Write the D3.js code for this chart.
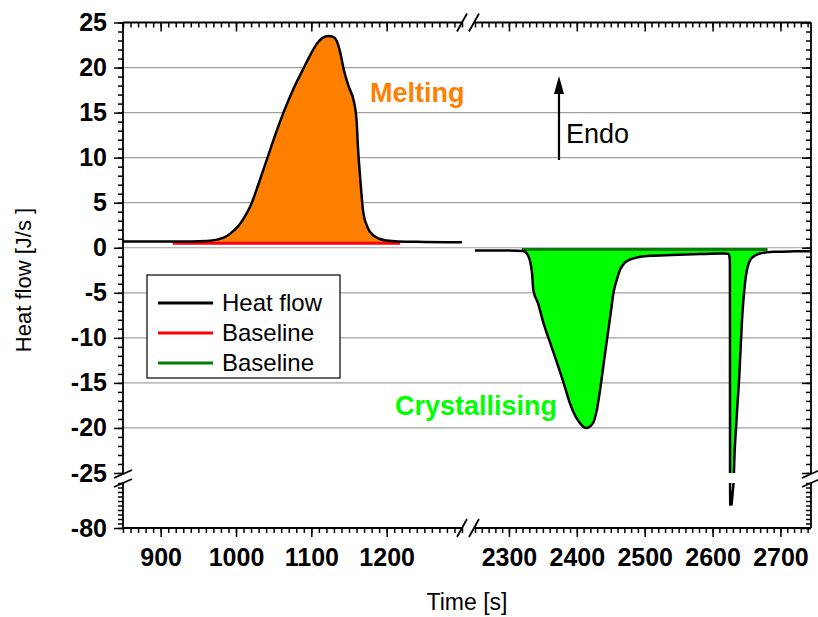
<!DOCTYPE html>
<html>
<head>
<meta charset="utf-8">
<script src="https://cdn.jsdelivr.net/npm/d3@7"></script>
<style>
  body { margin: 0; background: #fff; }
  svg { display: block; font-family: "Liberation Sans", Arial, sans-serif; }
</style>
</head>
<body>
<svg id="chart" width="818" height="617"></svg>
<script>
// ---------- data ----------
const timeMelt = [850, 900, 940, 961, 975, 988, 997, 1005, 1012, 1019, 1030, 1041, 1052, 1063, 1076, 1089, 1098, 1107, 1115, 1123, 1129, 1134, 1138, 1143, 1150, 1156, 1160, 1162, 1165, 1169, 1175, 1182, 1190, 1200, 1215, 1250, 1300];
const flowMelt = [0.7, 0.7, 0.7, 0.75, 0.9, 1.3, 1.9, 2.6, 3.5, 4.6, 7.1, 9.8, 12.5, 15.0, 17.6, 19.8, 21.3, 22.6, 23.3, 23.5, 23.4, 22.9, 21.8, 19.8, 17.8, 16.4, 14.2, 11.0, 7.6, 3.9, 2.2, 1.4, 1.0, 0.8, 0.7, 0.65, 0.6];
const timeCryst = [2250, 2300, 2321, 2326, 2329, 2332, 2334, 2336, 2343, 2351, 2361, 2371, 2381, 2390, 2398, 2405, 2410, 2415, 2420, 2425, 2430, 2435, 2440, 2445, 2450, 2454, 2459, 2464, 2470, 2479, 2490, 2508, 2540, 2582, 2615, 2624, 2625.5, 2626, 2628, 2631.5, 2635, 2639, 2644, 2649, 2656, 2664, 2671, 2690, 2720, 2745];
const flowCryst = [-0.3, -0.3, -0.35, -0.6, -1.0, -1.8, -2.8, -4.7, -6.2, -8.4, -10.6, -12.8, -15.1, -17.3, -18.7, -19.5, -19.9, -20.0, -19.8, -19.3, -17.8, -15.4, -12.6, -9.9, -7.2, -5.0, -3.5, -2.4, -1.7, -1.3, -1.05, -0.9, -0.8, -0.7, -0.65, -0.68, -1.5, -54, -54, -25, -19.5, -14.7, -7.3, -3.2, -1.3, -0.8, -0.6, -0.45, -0.4, -0.38];
const baseMeltTime = [916, 1218];
const baseMeltFlow = [0.5, 0.5];
const baseCrystTime = [2319, 2681];
const baseCrystFlow = [-0.2, -0.2];

const xTicksLeft = [900, 1000, 1100, 1200];
const xTicksRight = [2300, 2400, 2500, 2600, 2700];
const yTicksUpper = [25, 20, 15, 10, 5, 0, -5, -10, -15, -20, -25];
const yTicksLower = [-80];
const gridValues = [20, 15, 10, 5, 0, -5, -10, -15, -20];
const legendLabels = ["Heat flow", "Baseline", "Baseline"];

// ---------- layout ----------
const L = 123, R = 811, T = 22.5, B = 528;
const xLeft = d3.scaleLinear().domain([850, 1300]).range([L, 462]);
const xRight = d3.scaleLinear().domain([2250, 2745]).range([475, R]);
const yUp = d3.scaleLinear().domain([25, -25]).range([T, 473]);
const yLow = d3.scaleLinear().domain([-30, -80]).range([483, B]);

const svg = d3.select("#chart");
const defs = svg.append("defs");
function clip(id, x0, x1, y0, y1) {
  defs.append("clipPath").attr("id", id).append("rect")
    .attr("x", x0).attr("y", y0).attr("width", x1 - x0).attr("height", y1 - y0);
}
clip("cLU", xLeft.range()[0], xLeft.range()[1], T, yUp.range()[1]);
clip("cRU", xRight.range()[0], xRight.range()[1], T, yUp.range()[1]);
clip("cRL", xRight.range()[0], xRight.range()[1], yLow.range()[0], B);

// grid
svg.append("g").selectAll("line").data(gridValues).join("line")
  .attr("x1", L).attr("x2", R)
  .attr("y1", d => yUp(d)).attr("y2", d => yUp(d))
  .attr("stroke", "#a0a0a0").attr("stroke-width", 1.2);

// ---------- series ----------
const melt = timeMelt.map((t, i) => ({ t, v: flowMelt[i] }));
const cryst = timeCryst.map((t, i) => ({ t, v: flowCryst[i] }));

// fills
const meltFill = melt.filter(d => d.t >= 955 && d.t <= baseMeltTime[1]);
const crystFill = cryst.filter(d => d.t >= baseCrystTime[0] && d.t <= baseCrystTime[1]);

svg.append("path").attr("clip-path", "url(#cLU)")
  .attr("d", d3.area().x(d => xLeft(d.t)).y0(yUp(baseMeltFlow[0])).y1(d => yUp(d.v)).curve(d3.curveMonotoneX)(meltFill))
  .attr("fill", "#FF8000");
svg.append("path").attr("clip-path", "url(#cRU)")
  .attr("d", d3.area().x(d => xRight(d.t)).y0(yUp(baseCrystFlow[0])).y1(d => yUp(d.v)).curve(d3.curveMonotoneX)(crystFill))
  .attr("fill", "#00FF00");

// baselines
const baseMelt = baseMeltTime.map((t, i) => ({ t, v: baseMeltFlow[i] }));
const baseCryst = baseCrystTime.map((t, i) => ({ t, v: baseCrystFlow[i] }));
svg.append("path").attr("clip-path", "url(#cLU)")
  .attr("d", d3.line().x(d => xLeft(d.t)).y(d => yUp(d.v))(baseMelt))
  .attr("fill", "none").attr("stroke", "#FF0000").attr("stroke-width", 3);
svg.append("path").attr("clip-path", "url(#cRU)")
  .attr("d", d3.line().x(d => xRight(d.t)).y(d => yUp(d.v))(baseCryst))
  .attr("fill", "none").attr("stroke", "#008000").attr("stroke-width", 3);

// heat flow lines
svg.append("path").attr("clip-path", "url(#cLU)")
  .attr("d", d3.line().x(d => xLeft(d.t)).y(d => yUp(d.v)).curve(d3.curveMonotoneX)(melt))
  .attr("fill", "none").attr("stroke", "#000").attr("stroke-width", 2.5).attr("stroke-linejoin", "round");
svg.append("path").attr("clip-path", "url(#cRU)")
  .attr("d", d3.line().x(d => xRight(d.t)).y(d => yUp(d.v)).curve(d3.curveMonotoneX)(cryst))
  .attr("fill", "none").attr("stroke", "#000").attr("stroke-width", 2.5).attr("stroke-linejoin", "round");
svg.append("path").attr("clip-path", "url(#cRL)")
  .attr("d", d3.line().x(d => xRight(d.t)).y(d => yLow(d.v))(cryst))
  .attr("fill", "none").attr("stroke", "#000").attr("stroke-width", 2.5).attr("stroke-linejoin", "round");

// ---------- axes ----------
const tickFont = "bold 25px 'Liberation Sans', Arial, sans-serif";
const fmt = d => String(d);
function styleAxis(g, labels) {
  g.select(".domain").remove();
  g.selectAll(".tick line").attr("stroke", "#000").attr("stroke-width", 1.5);
  g.selectAll(".tick text").style("font", tickFont).attr("fill", "#000");
  if (!labels) g.selectAll(".tick text").remove();
}
function minors(scale, step) {
  const [a, b] = scale.domain();
  const lo = Math.min(a, b), hi = Math.max(a, b);
  const out = [];
  for (let v = Math.ceil(lo / step) * step; v <= hi + 1e-9; v += step) out.push(v);
  return out;
}
// bottom axes
[[xLeft, xTicksLeft], [xRight, xTicksRight]].forEach(([sc, tk]) => {
  svg.append("g").attr("transform", `translate(0,${B})`)
    .call(d3.axisBottom(sc).tickValues(minors(sc, 10)).tickSize(5).tickFormat(""))
    .call(g => styleAxis(g, false));
  svg.append("g").attr("transform", `translate(0,${B})`)
    .call(d3.axisBottom(sc).tickValues(tk).tickSize(9).tickPadding(11).tickFormat(fmt))
    .call(g => styleAxis(g, true));
  // top mirrored (inward)
  svg.append("g").attr("transform", `translate(0,${T})`)
    .call(d3.axisBottom(sc).tickValues(minors(sc, 10)).tickSize(5).tickFormat(""))
    .call(g => styleAxis(g, false));
  svg.append("g").attr("transform", `translate(0,${T})`)
    .call(d3.axisBottom(sc).tickValues(tk).tickSize(9).tickFormat(""))
    .call(g => styleAxis(g, false));
});
// left / right axes
[[yUp, yTicksUpper, 1], [yLow, yTicksLower, 5]].forEach(([sc, tk, ms]) => {
  svg.append("g").attr("transform", `translate(${L},0)`)
    .call(d3.axisLeft(sc).tickValues(minors(sc, ms)).tickSize(5).tickFormat(""))
    .call(g => styleAxis(g, false));
  svg.append("g").attr("transform", `translate(${L},0)`)
    .call(d3.axisLeft(sc).tickValues(tk).tickSize(9).tickPadding(7).tickFormat(fmt))
    .call(g => styleAxis(g, true));
  svg.append("g").attr("transform", `translate(${R},0)`)
    .call(d3.axisLeft(sc).tickValues(minors(sc, ms)).tickSize(5).tickFormat(""))
    .call(g => styleAxis(g, false));
  svg.append("g").attr("transform", `translate(${R},0)`)
    .call(d3.axisLeft(sc).tickValues(tk).tickSize(9).tickFormat(""))
    .call(g => styleAxis(g, false));
});

// frame segments (with breaks)
const frame = svg.append("g").attr("stroke", "#000").attr("stroke-width", 1.8).attr("fill", "none");
[[T], [B]].forEach(([y]) => {
  frame.append("line").attr("x1", L).attr("x2", 462).attr("y1", y).attr("y2", y);
  frame.append("line").attr("x1", 474).attr("x2", R).attr("y1", y).attr("y2", y);
});
[L, R].forEach(x => {
  frame.append("line").attr("x1", x).attr("x2", x).attr("y1", T).attr("y2", 474);
  frame.append("line").attr("x1", x).attr("x2", x).attr("y1", 483).attr("y2", B);
});
// break marks
const brk = svg.append("g").attr("stroke", "#000").attr("stroke-width", 1.8);
[T, B].forEach(y => {
  [462, 474].forEach(cx => {
    brk.append("line").attr("x1", cx - 5).attr("y1", y + 9).attr("x2", cx + 5).attr("y2", y - 9);
  });
});
[L, R].forEach(x => {
  [474, 483].forEach(cy => {
    brk.append("line").attr("x1", x - 9).attr("y1", cy + 4).attr("x2", x + 9).attr("y2", cy - 4);
  });
});

// axis titles
svg.append("text").attr("x", 467).attr("y", 610).attr("text-anchor", "middle")
  .style("font", "23px 'Liberation Sans', Arial, sans-serif").text("Time [s]");
svg.append("text").attr("transform", "translate(31,280) rotate(-90)").attr("text-anchor", "middle")
  .style("font", "22px 'Liberation Sans', Arial, sans-serif").text("Heat flow [J/s ]");

// annotations
svg.append("text").attr("x", 370).attr("y", 102).attr("fill", "#FF8000")
  .style("font", "bold 27px 'Liberation Sans', Arial, sans-serif").text("Melting");
svg.append("text").attr("x", 395).attr("y", 415).attr("fill", "#00FF00")
  .style("font", "bold 27px 'Liberation Sans', Arial, sans-serif").text("Crystallising");
svg.append("text").attr("x", 566).attr("y", 143).attr("fill", "#000")
  .style("font", "27px 'Liberation Sans', Arial, sans-serif").text("Endo");
svg.append("line").attr("x1", 559).attr("x2", 559).attr("y1", 160).attr("y2", 88)
  .attr("stroke", "#000").attr("stroke-width", 2.2);
svg.append("path").attr("d", "M559,76 L554,94 L564,94 Z").attr("fill", "#000");

// legend
const lg = svg.append("g");
lg.append("rect").attr("x", 147).attr("y", 275).attr("width", 193).attr("height", 103)
  .attr("fill", "#fff").attr("stroke", "#000").attr("stroke-width", 1.2);
const legendColors = ["#000000", "#FF0000", "#008000"];
legendLabels.forEach((lab, i) => {
  const y = 303 + i * 30;
  lg.append("line").attr("x1", 158).attr("x2", 213).attr("y1", y).attr("y2", y)
    .attr("stroke", legendColors[i]).attr("stroke-width", 3);
  lg.append("text").attr("x", 222).attr("y", y).attr("dy", "0.35em")
    .style("font", "24px 'Liberation Sans', Arial, sans-serif").text(lab);
});
</script>
</body>
</html>
